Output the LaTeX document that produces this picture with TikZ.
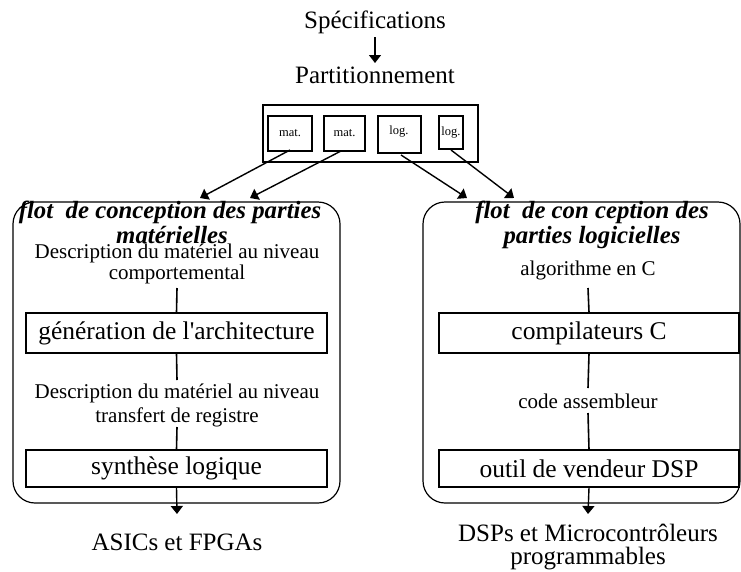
\documentclass[tikz,border=0pt]{standalone}
\usepackage{fontspec}
\setmainfont{Liberation Serif}
\usetikzlibrary{arrows.meta}
\begin{document}
\begin{tikzpicture}[x=1pt,y=-1pt,
  txt/.style={anchor=base,inner sep=0pt,font=\fontsize{21}{23}\selectfont},
  big/.style={anchor=base,inner sep=0pt,font=\fontsize{25}{27}\selectfont},
  ttl/.style={anchor=base,inner sep=0pt,font=\fontsize{24.8}{27}\selectfont\bfseries\itshape},
  sm/.style={inner sep=0pt,font=\fontsize{12.5}{14}\selectfont},
  boxl/.style={draw,line width=1.2pt},
  conn/.style={line width=1.6pt},
  arr/.style={line width=1.4pt,-{Triangle[width=12pt,length=8pt]}},
  flow/.style={draw,line width=1.2pt,rounded corners=22pt}]
\useasboundingbox (0,0) rectangle (741,571);
% top
\node[big] (spec) at (375,28) {Spécifications};
\node[big] (part) at (375,83) {Partitionnement};
\coordinate (sa) at (375,37);
\coordinate (sb) at (375,63);
\draw[arr] (sa) -- (sb);
% partition box
\draw[boxl] (263,105) rectangle (478,162);
\node[boxl,minimum width=44pt,minimum height=35pt,inner sep=0pt] (m1) at (290,133.5) {};
\node[sm] at (m1.center) {mat.};
\node[boxl,minimum width=41pt,minimum height=35pt,inner sep=0pt] (m2) at (344.5,133.5) {};
\node[sm] at (m2.center) {mat.};
\node[boxl,minimum width=43pt,minimum height=37pt,inner sep=0pt] (l1) at (399.5,134.5) {};
\node[sm] at (399,132) {log.};
\node[boxl,minimum width=24pt,minimum height=33pt,inner sep=0pt] (l2) at (451,132.5) {};
\node[sm] at (l2.center) {log.};
% left flow box
\draw[flow] (13,202) rectangle (340,503);
\node[ttl] (lt1) at (170,218) {flot\ \ de conception des parties};
\node[ttl] (lt2) at (172,243) {matérielles};
\node[txt] (d1) at (177,258) {Description du matériel au niveau};
\node[txt] (d1b) at (177,279) {comportemental};
\node[boxl,minimum width=301pt,minimum height=40pt,inner sep=0pt,font=\fontsize{25.5}{27}\selectfont] (gen) at (176.5,333) {génération de l\textquotesingle architecture};
\node[txt] (d2) at (177,398) {Description du matériel au niveau};
\node[txt] (d2b) at (177,422) {transfert de registre};
\node[boxl,minimum width=301pt,minimum height=37pt,inner sep=0pt,font=\fontsize{25.5}{27}\selectfont] (syn) at (176.5,468.5) {synthèse logique};
\node[big] (asic) at (177,550) {ASICs et FPGAs};
\coordinate (c1a) at (177,288);
\draw[conn] (c1a) -- (gen.north);
\coordinate (c1b) at (177,380);
\draw[conn] (gen.south) -- (c1b);
\coordinate (c1c) at (177,427);
\draw[conn] (c1c) -- (syn.north);
\coordinate (c1d) at (177,514);
\draw[arr] (syn.south) -- (c1d);
% right flow box
\draw[flow] (423,202) rectangle (740,503);
\node[ttl] (rt1) at (592,218) {flot\ \ de con ception des};
\node[ttl] (rt2) at (592,243) {parties logicielles};
\node[txt] (alg) at (588,275) {algorithme en C};
\node[boxl,minimum width=300pt,minimum height=40pt,inner sep=0pt,font=\fontsize{25.5}{27}\selectfont] (comp) at (589,333) {compilateurs C};
\node[txt] (asm) at (588,408) {code assembleur};
\node[boxl,minimum width=300pt,minimum height=37pt,inner sep=0pt,font=\fontsize{25.5}{27}\selectfont] (dsp) at (589,468.5) {outil de vendeur DSP};
\node[big] (out1) at (588,541) {DSPs et Microcontrôleurs};
\node[big] (out2) at (588,564) {programmables};
\coordinate (c2a) at (588,288);
\draw[conn] (c2a) -- (comp.north);
\coordinate (c2b) at (588,388);
\draw[conn] (comp.south) -- (c2b);
\coordinate (c2c) at (588,413);
\draw[conn] (c2c) -- (dsp.north);
\coordinate (c2d) at (588,514);
\draw[arr] (dsp.south) -- (c2d);
% partition arrows
\coordinate (t1) at (200,198);
\coordinate (t2) at (250,198);
\coordinate (t3) at (467,198);
\coordinate (t4) at (514,198);
\draw[arr] (290,150) -- (t1);
\draw[arr] (341,151) -- (t2);
\draw[arr] (401,155) -- (t3);
\draw[arr] (451,150) -- (t4);
\end{tikzpicture}
\end{document}
